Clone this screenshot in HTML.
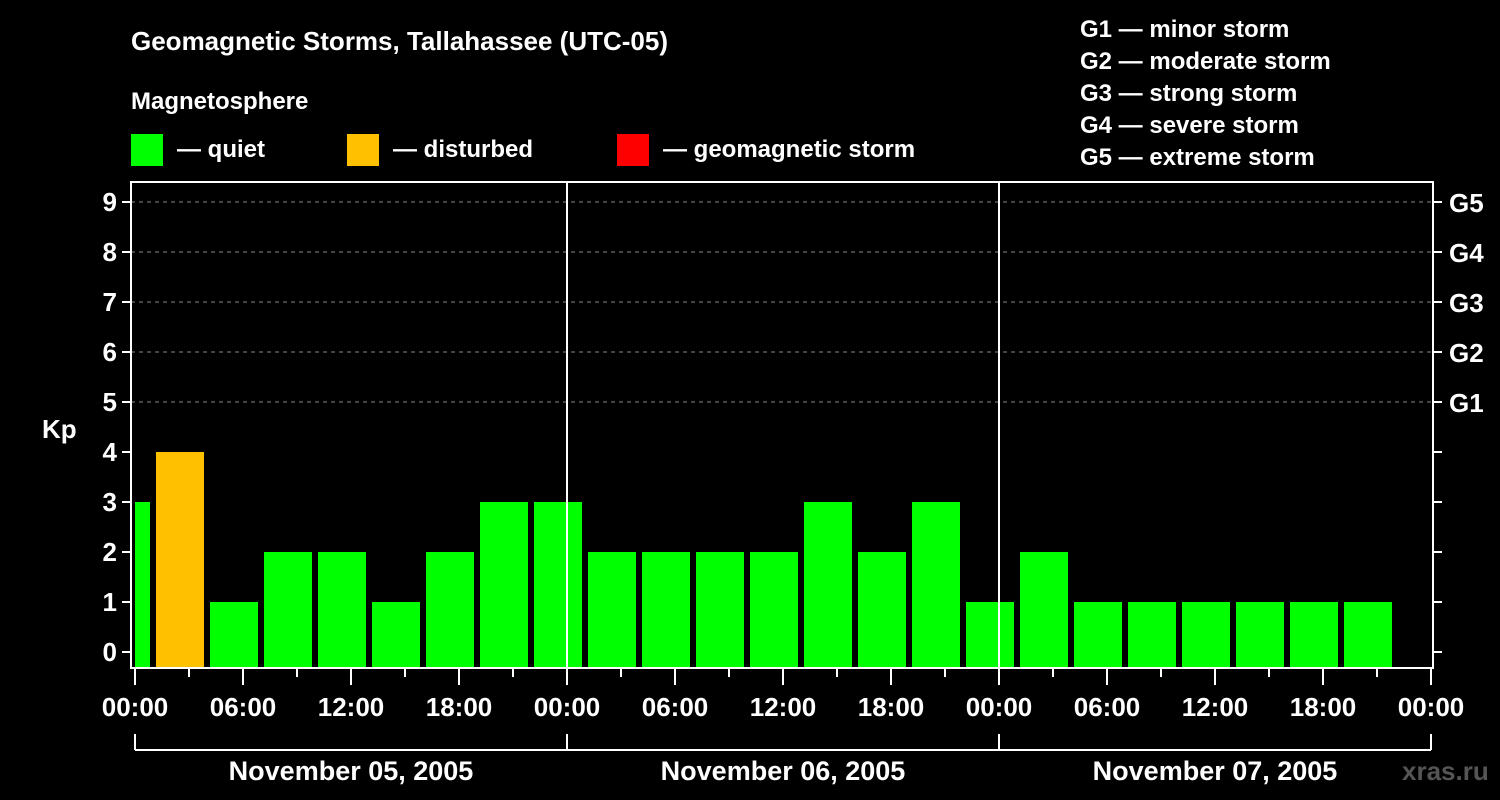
<!DOCTYPE html>
<html><head><meta charset="utf-8"><style>
body{margin:0;background:#000;}
svg{display:block;font-family:"Liberation Sans",Arial,sans-serif;font-weight:bold;}
</style></head><body>
<svg id="c" width="1500" height="800" viewBox="0 0 1500 800">
<rect width="1500" height="800" fill="#000"/>
<text x="131" y="50" fill="#fff" font-size="26">Geomagnetic Storms, Tallahassee (UTC-05)</text>
<text x="131" y="109" fill="#fff" font-size="24">Magnetosphere</text>
<g><rect x="131" y="134" width="32" height="32" fill="#00ff00"/><text x="177" y="157" fill="#fff" font-size="24">— quiet</text></g>
<g><rect x="347" y="134" width="32" height="32" fill="#ffc000"/><text x="393" y="157" fill="#fff" font-size="24">— disturbed</text></g>
<g><rect x="617" y="134" width="32" height="32" fill="#ff0000"/><text x="663" y="157" fill="#fff" font-size="24">— geomagnetic storm</text></g>
<g fill="#fff" font-size="24">
<text x="1080" y="37">G1 — minor storm</text>
<text x="1080" y="69">G2 — moderate storm</text>
<text x="1080" y="101">G3 — strong storm</text>
<text x="1080" y="133">G4 — severe storm</text>
<text x="1080" y="165">G5 — extreme storm</text>
</g>
<text x="42" y="438" fill="#fff" font-size="26">Kp</text>
<text x="1402" y="780" fill="#555" font-size="26">xras.ru</text>
<g id="g"></g>
</svg>
<script>
const kpValues=[3,4,1,2,2,1,2,3,3,2,2,2,2,3,2,3,1,2,1,1,1,1,1,1];
const slotStartHours=[-2,1,4,7,10,13,16,19,22,25,28,31,34,37,40,43,46,49,52,55,58,61,64,67];
const dayLabels=["November 05, 2005","November 06, 2005","November 07, 2005"];
const gLabels=["G1","G2","G3","G4","G5"];
const NS="http://www.w3.org/2000/svg";
const g=document.getElementById('g');
const X0=135,PX_H=18,Y0=652,PX_K=50,L=131,R=1433,T=182,B=668;
const xs=h=>X0+h*PX_H, ys=k=>Y0-k*PX_K;
function el(t,a,p){const e=document.createElementNS(NS,t);for(const k in a)e.setAttribute(k,a[k]);(p||g).appendChild(e);return e;}
// grid
for(let k=5;k<=9;k++){const l=el('line',{x1:L,x2:R,y1:ys(k),y2:ys(k),stroke:'#888','stroke-dasharray':'4,4','stroke-width':1});

}
// bars
kpValues.forEach((v,i)=>{
 let a=xs(slotStartHours[i])+3,b=xs(slotStartHours[i]+3)-3;
 a=Math.max(a,X0);
 const c=v>=5?'#ff0000':(v>=4?'#ffc000':'#00ff00');
 const r=el('rect',{x:a,y:ys(v),width:b-a,height:B-1-ys(v),fill:c});
 
 
});
// day lines
for(let d=1;d<3;d++){const l=el('line',{x1:xs(24*d),x2:xs(24*d),y1:T,y2:B,stroke:'#fff','stroke-width':2});

}
// frame
const f=el('rect',{x:L,y:T,width:R-L,height:B-T,fill:'none',stroke:'#fff','stroke-width':2});


// y ticks
for(let k=0;k<=9;k++){
 el('line',{x1:L-9,x2:L,y1:ys(k),y2:ys(k),stroke:'#fff','stroke-width':2});
 el('line',{x1:R,x2:R+9,y1:ys(k),y2:ys(k),stroke:'#fff','stroke-width':2});
 const t=el('text',{x:L-14,y:ys(k)+9,fill:'#fff','font-size':26,'text-anchor':'end'});t.textContent=k;
 
 
}
gLabels.forEach((s,i)=>{const t=el('text',{x:R+16,y:ys(i+5)+10,fill:'#fff','font-size':26});t.textContent=s;
 
 });
// x ticks
for(let h=0;h<=72;h+=3){
 const major=h%6==0;
 el('line',{x1:xs(h),x2:xs(h),y1:B,y2:B+(major?17:9),stroke:'#fff','stroke-width':2});
 if(major){const t=el('text',{x:xs(h),y:716,fill:'#fff','font-size':26,'text-anchor':'middle'});
 t.textContent=String(h%24).padStart(2,'0')+':00';
 
 }
}
// day bracket
el('line',{x1:xs(0),x2:xs(72),y1:750,y2:750,stroke:'#fff','stroke-width':2});
for(let d=0;d<=3;d++)el('line',{x1:xs(24*d),x2:xs(24*d),y1:734,y2:750,stroke:'#fff','stroke-width':2});
dayLabels.forEach((s,d)=>{const t=el('text',{x:xs(24*d+12),y:780,fill:'#fff','font-size':27,'text-anchor':'middle'});t.textContent=s;
 
 });
</script>
</body></html>
